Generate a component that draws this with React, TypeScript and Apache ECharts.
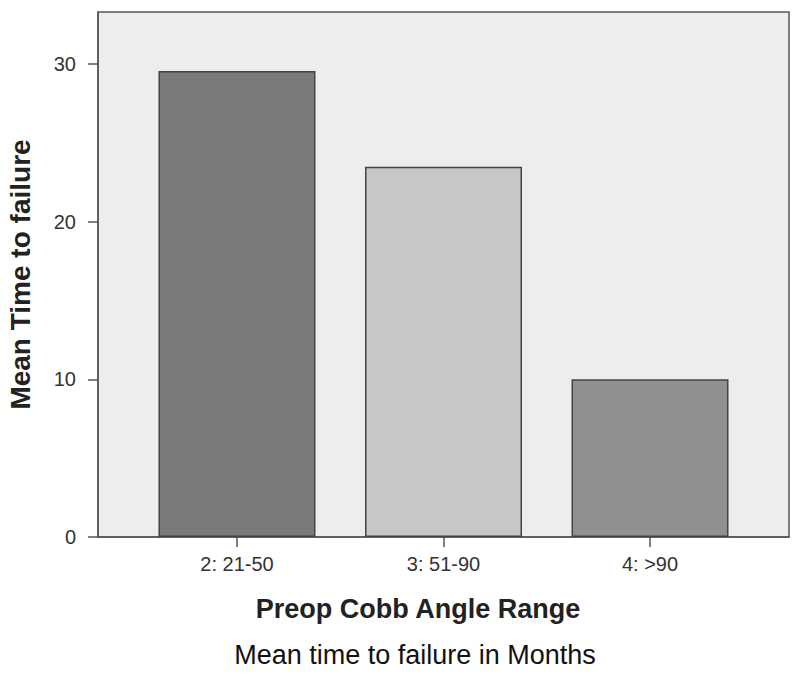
import React, { useEffect, useRef } from "react";
import * as echarts from "echarts";

const categories = ["2: 21-50", "3: 51-90", "4: >90"];
const meanTime = [29.55, 23.48, 10.0];
const yTicks = [0, 10, 20, 30];
const barColors = ["#7a7a7c", "#c7c7c9", "#909092"];

const FONT = "'Liberation Sans', Arial, sans-serif";

export default function App() {
  const ref = useRef<HTMLDivElement>(null);
  useEffect(() => {
    if (!ref.current) return;
    const chart = echarts.init(ref.current, undefined, { renderer: "svg" });
    const xIdx = categories.map((_, i) => i);
    chart.setOption({
      animation: false,
      backgroundColor: "#ffffff",
      textStyle: { fontFamily: FONT },
      grid: {
        left: 98,
        top: 12,
        right: 11,
        bottom: 137,
        outerBoundsMode: "none",
        containLabel: false,
        show: true,
        backgroundColor: "#ededef",
        borderColor: "#555558",
        borderWidth: 1.5,
      },
      xAxis: {
        type: "value",
        min: -0.673,
        max: 2.673,
        splitLine: { show: false },
        axisLine: { show: true, onZero: false, lineStyle: { color: "#555558", width: 1.5 } },
        axisTick: {
          show: true,
          customValues: xIdx,
          length: 10,
          lineStyle: { color: "#555558", width: 1.5 },
        },
        axisLabel: {
          customValues: xIdx,
          formatter: (v: number) => categories[Math.round(v)] ?? "",
          color: "#333",
          fontSize: 20,
          margin: 17,
          fontFamily: FONT,
        },
      },
      yAxis: {
        type: "value",
        min: 0,
        max: 33.3,
        interval: 10,
        splitLine: { show: false },
        axisLine: { show: true, onZero: false, lineStyle: { color: "#555558", width: 1.5 } },
        axisTick: {
          show: true,
          customValues: yTicks,
          length: 10,
          lineStyle: { color: "#555558", width: 1.5 },
        },
        axisLabel: {
          customValues: yTicks,
          color: "#333",
          fontSize: 20,
          margin: 22,
          fontFamily: FONT,
        },
        name: "Mean Time to failure",
        nameLocation: "middle",
        nameGap: 64,
        nameTextStyle: {
          fontSize: 28,
          fontWeight: "bold",
          color: "#222",
          fontFamily: FONT,
        },
      },
      series: [
        {
          type: "bar",
          barWidth: 157,
          data: meanTime.map((v, i) => ({
            value: [i, v],
            itemStyle: { color: barColors[i], borderColor: "#444446", borderWidth: 1.5 },
          })),
        },
      ],
      graphic: [
        {
          type: "text",
          x: 418,
          y: 609,
          style: {
            text: "Preop Cobb Angle Range",
            fontSize: 27,
            fontWeight: "bold",
            fill: "#222",
            fontFamily: FONT,
            textAlign: "center",
            textVerticalAlign: "middle",
          },
        },
        {
          type: "text",
          x: 415,
          y: 655,
          style: {
            text: "Mean time to failure in Months",
            fontSize: 27,
            fill: "#111",
            fontFamily: FONT,
            textAlign: "center",
            textVerticalAlign: "middle",
          },
        },
      ],
    });
    return () => chart.dispose();
  }, []);
  return (
    <div
      ref={ref}
      style={{ position: "fixed", left: 0, top: 0, width: 800, height: 674 }}
    />
  );
}
